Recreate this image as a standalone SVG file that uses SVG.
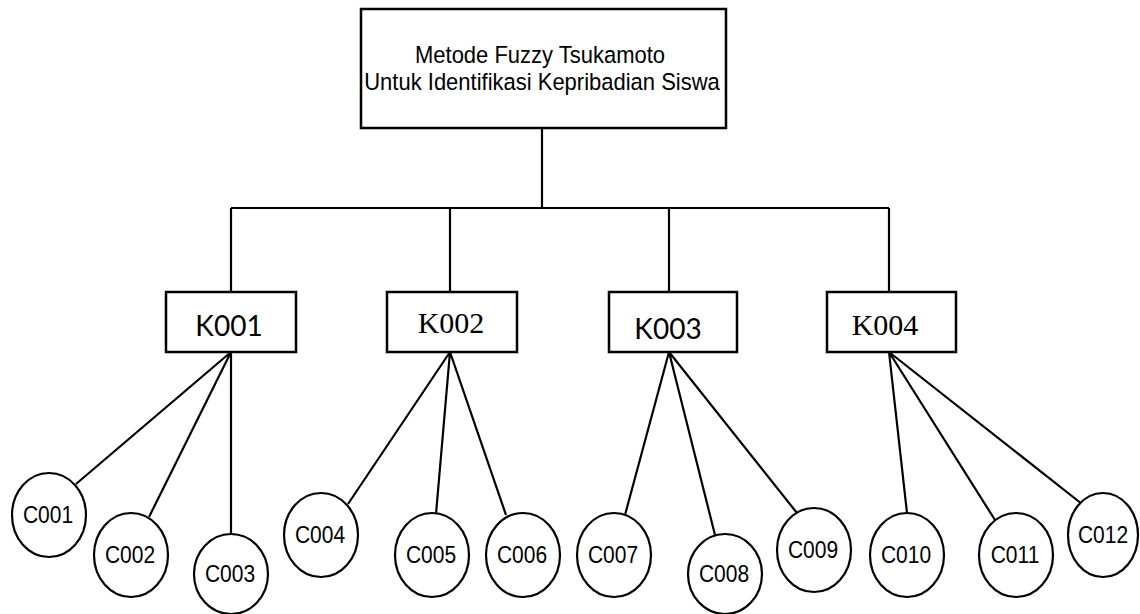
<svg xmlns="http://www.w3.org/2000/svg" width="1140" height="614" viewBox="0 0 1140 614">
<style>
.box{fill:#fff;stroke:#000;stroke-width:2.5}
.circ{fill:#fff;stroke:#000;stroke-width:2.2}
.ln{stroke:#000;stroke-width:2.2;fill:none}
.t{font-family:"Liberation Sans",Arial,sans-serif;font-size:22px;fill:#000;text-anchor:middle}
.c{font-family:"Liberation Sans",Arial,sans-serif;font-size:21px;fill:#000;text-anchor:middle}
.ks{font-family:Lato,"Open Sans",sans-serif;font-size:28px;fill:#000;text-anchor:middle}
.kr{font-family:"Liberation Serif","Times New Roman",serif;font-size:30px;fill:#000;text-anchor:middle}
</style>
<rect width="1140" height="614" fill="#fff"/>
<g id="connectors">
<path class="ln" d="M542 128 V208 M231 208 H889 M231 208 V292 M450 208 V292 M669 208 V292 M889 208 V292"/>
<path class="ln" d="M231 352 L76 484 M231 352 L149 517 M231 352 L231 534"/>
<path class="ln" d="M450 352 L348 504 M450 352 L436 514 M450 352 L506 515"/>
<path class="ln" d="M669 352 L625 515 M669 352 L715 535 M669 352 L797 513"/>
<path class="ln" d="M889 352 L907 513 M889 352 L995 520 M889 352 L1082 504"/>
</g>
<g id="root"><rect class="box" x="361" y="9" width="365" height="119"/>
<text class="t" transform="translate(540,63) scale(1,1.08)">Metode Fuzzy Tsukamoto</text>
<text class="t" transform="translate(542,90) scale(1,1.08)">Untuk Identifikasi Kepribadian Siswa</text></g>
<g id="K001"><rect class="box" x="166" y="292" width="130" height="60"/><text class="ks" x="229" y="336">K001</text></g>
<g id="K002"><rect class="box" x="387" y="292" width="130" height="60"/><text class="kr" x="451" y="333">K002</text></g>
<g id="K003"><rect class="box" x="609" y="292" width="128" height="60"/><text class="ks" x="668" y="339">K003</text></g>
<g id="K004"><rect class="box" x="827" y="292" width="129" height="60"/><text class="kr" x="885" y="335">K004</text></g>
<g id="C001"><ellipse class="circ" cx="49" cy="515" rx="37" ry="42"/><text class="c" transform="translate(48,523) scale(1,1.13)">C001</text></g>
<g id="C002"><ellipse class="circ" cx="131" cy="555" rx="37" ry="42"/><text class="c" transform="translate(130,563) scale(1,1.13)">C002</text></g>
<g id="C003"><ellipse class="circ" cx="231" cy="574" rx="37" ry="40"/><text class="c" transform="translate(230,582) scale(1,1.13)">C003</text></g>
<g id="C004"><ellipse class="circ" cx="321" cy="535" rx="37" ry="42"/><text class="c" transform="translate(320,543) scale(1,1.13)">C004</text></g>
<g id="C005"><ellipse class="circ" cx="432" cy="555" rx="37" ry="42"/><text class="c" transform="translate(431,563) scale(1,1.13)">C005</text></g>
<g id="C006"><ellipse class="circ" cx="523" cy="555" rx="37" ry="42"/><text class="c" transform="translate(522,563) scale(1,1.13)">C006</text></g>
<g id="C007"><ellipse class="circ" cx="614" cy="555" rx="37" ry="42"/><text class="c" transform="translate(613,563) scale(1,1.13)">C007</text></g>
<g id="C008"><ellipse class="circ" cx="725" cy="574" rx="37" ry="40"/><text class="c" transform="translate(724,582) scale(1,1.13)">C008</text></g>
<g id="C009"><ellipse class="circ" cx="814" cy="550" rx="37" ry="42"/><text class="c" transform="translate(813,558) scale(1,1.13)">C009</text></g>
<g id="C010"><ellipse class="circ" cx="907" cy="555" rx="37" ry="42"/><text class="c" transform="translate(906,563) scale(1,1.13)">C010</text></g>
<g id="C011"><ellipse class="circ" cx="1016" cy="555" rx="37" ry="42"/><text class="c" transform="translate(1015,563) scale(1,1.13)">C011</text></g>
<g id="C012"><ellipse class="circ" cx="1103" cy="535" rx="35" ry="42"/><text class="c" transform="translate(1103,543) scale(1,1.13)">C012</text></g>
</svg>
